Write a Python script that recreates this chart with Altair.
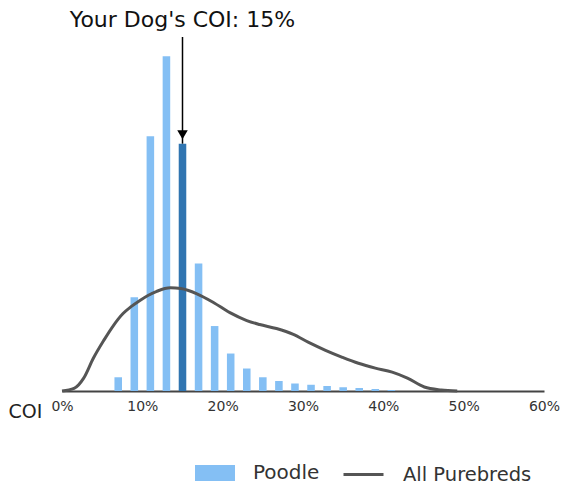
import altair as alt
import pandas as pd

# ---- data ----
coi_bins = [7, 9, 11, 13, 15, 17, 19, 21, 23, 25, 27, 29, 31, 33, 35, 37, 39, 41]
poodle_pct = [1.1, 7.5, 20.4, 26.8, 19.8, 10.2, 5.2, 3.0, 1.8, 1.1, 0.8, 0.6,
              0.5, 0.4, 0.3, 0.24, 0.16, 0.08]

curve_x = [0, 1.5, 2.7, 3.9, 5.2, 6.4, 7.6, 8.6, 9.7, 10.7, 11.8, 12.8, 13.5,
           14.8, 16.8, 18.9, 20.9, 23.0, 24.6, 26.7, 28.8, 30.7, 32.8, 34.9,
           36.9, 39.0, 41.1, 43.0, 45.1, 47.2, 49.2]
curve_y = [0, 0.21, 1.03, 2.62, 4.05, 5.24, 6.2, 6.75, 7.25, 7.65, 7.98, 8.2,
           8.26, 8.2, 7.78, 7.07, 6.27, 5.64, 5.32, 5.0, 4.53, 3.89, 3.26,
           2.70, 2.22, 1.83, 1.51, 1.03, 0.32, 0.08, 0]

your_dog_coi = 15
x_ticks = [0, 10, 20, 30, 40, 50, 60]

LIGHT = "#84bff4"
DARK = "#3075b1"
GRAY = "#555555"

bars = pd.DataFrame({"coi": coi_bins, "pct": poodle_pct, "series": "Poodle"})
bars["lo"] = bars["coi"] - 0.47
bars["hi"] = bars["coi"] + 0.47
curve = pd.DataFrame({"coi": curve_x, "density": curve_y, "series": "All Purebreds"})
mine = bars[bars["coi"] == your_dog_coi].copy()

xscale = alt.Scale(domain=[0, 60], nice=False, zero=True)
yscale = alt.Scale(domain=[0, 28.1], nice=False)

bar_layer = alt.Chart(bars).mark_rect().encode(
    x=alt.X("lo:Q", scale=xscale,
            axis=alt.Axis(values=x_ticks, labelExpr="datum.value + '%'",
                          labelFlush=False, labelOverlap=False,
                          title="COI", titleX=-37, titleY=20,
                          titleAlign="center", titleBaseline="middle",
                          titleFontSize=19, titleFontWeight="normal",
                          titleColor="#222", labelFontSize=14,
                          labelColor="#333", labelPadding=8, ticks=False,
                          tickSize=0, grid=False, domainColor="#444",
                          domainWidth=2)),
    x2="hi:Q",
    y=alt.Y("pct:Q", scale=yscale, axis=None),
    fill=alt.condition(
        f"datum.coi == {your_dog_coi}",
        alt.value(DARK),
        alt.Fill("series:N",
                 scale=alt.Scale(domain=["Poodle"], range=[LIGHT]),
                 legend=alt.Legend(orient="none", legendX=133, legendY=413,
                                   direction="horizontal", title=None,
                                   symbolType="M-1,-0.4H1V0.4H-1Z",
                                   symbolSize=1600, symbolStrokeWidth=0,
                                   labelFontSize=20, labelColor="#333",
                                   labelOffset=18, padding=0)),
    ),
)

line_layer = alt.Chart(curve).mark_line(interpolate="monotone", strokeWidth=3).encode(
    x=alt.X("coi:Q", scale=xscale),
    y=alt.Y("density:Q", scale=yscale),
    stroke=alt.Stroke("series:N",
                      scale=alt.Scale(domain=["All Purebreds"], range=[GRAY]),
                      legend=alt.Legend(orient="none", legendX=280, legendY=413,
                                        direction="horizontal", title=None,
                                        symbolType="stroke", symbolSize=1600,
                                        symbolStrokeWidth=3,
                                        labelFontSize=19.5, labelColor="#333",
                                        labelOffset=18, padding=0)),
)

arrow_shaft = alt.Chart(mine).mark_rule(color="black", strokeWidth=1.5).encode(
    x=alt.X("coi:Q", scale=xscale),
    y=alt.Y("pct:Q", scale=yscale),
    y2=alt.value(-3),
)

arrow_head = alt.Chart(mine).mark_point(
    shape="triangle-down", filled=True, color="black", size=110, opacity=1,
    yOffset=-9,
).encode(
    x=alt.X("coi:Q", scale=xscale),
    y=alt.Y("pct:Q", scale=yscale),
)

label = alt.Chart(mine).transform_calculate(
    txt="\"Your Dog's COI: \" + datum.coi + '%'"
).mark_text(fontSize=22, color="#111", baseline="alphabetic", align="center").encode(
    x=alt.X("coi:Q", scale=xscale),
    y=alt.value(-13),
    text="txt:N",
)

chart = alt.layer(bar_layer, line_layer, arrow_shaft, arrow_head, label).properties(
    width=482, height=351,
    autosize=alt.AutoSizeParams(type="none"),
    padding={"left": 54, "top": 32, "right": 16, "bottom": 93},
).configure(font="DejaVu Sans").configure_view(stroke=None)

chart.save("out.html", embed_options={"renderer": "svg", "actions": False})
